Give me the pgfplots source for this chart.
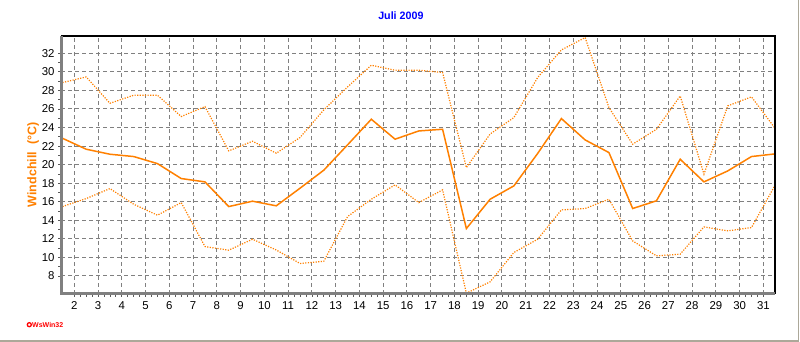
\documentclass[border=0pt]{standalone}
\usepackage{pgfplots}
\pgfplotsset{compat=1.18}
\usepackage{pgfplotstable}
\usepackage{fontspec}
\setmainfont{Liberation Sans}
\definecolor{wsorange}{RGB}{255,128,0}
\definecolor{gridgray}{RGB}{128,128,128}
\definecolor{framegray}{RGB}{172,168,153}
\definecolor{titleblue}{RGB}{0,0,255}

\pgfplotstableread{
day  max    mean   min
1.5  28.84  22.84  15.48
2.5  29.45  21.66  16.34
3.5  26.61  21.12  17.42
4.5  27.48  20.87  15.73
5.5  27.48  20.11  14.55
6.5  25.18  18.50  15.91
7.5  26.25  18.14  11.17
8.5  21.48  15.48  10.78
9.5  22.52  16.06  11.96
10.5 21.23  15.56  10.80
11.5 22.92  17.46  9.35
12.5 25.90  19.40  9.59
13.5 28.37  22.13  14.40
14.5 30.71  24.89  16.27
15.5 30.17  22.74  17.82
16.5 30.17  23.63  15.91
17.5 29.92  23.81  17.28
18.5 19.68  13.11  6.15
19.5 23.30  16.27  7.37
20.5 25.07  17.71  10.53
21.5 29.38  21.20  11.96
22.5 32.36  24.96  15.12
23.5 33.69  22.66  15.27
24.5 26.15  21.30  16.27
25.5 22.20  15.27  11.78
26.5 23.81  16.10  10.17
27.5 27.40  20.58  10.35
28.5 18.97  18.14  13.29
29.5 26.33  19.32  12.86
30.5 27.30  20.87  13.22
31.5 23.89  21.16  17.82
}\windchill

\begin{document}
\begin{tikzpicture}
\path[use as bounding box] (0pt,0pt) rectangle (800pt,342pt);
\draw[framegray, line width=1.5pt] (0pt,0.75pt) -- (798.5pt,0.75pt) -- (798.5pt,342pt);
\begin{axis}[
  at={(61pt,48pt)}, anchor=south west,
  scale only axis, width=714pt, height=258pt,
  xmin=1.44, xmax=31.49, ymin=6.06, ymax=33.86,
  xtick={2,...,31}, ytick={8,10,...,32},
  minor x tick num=3, minor y tick num=1,
  xtick pos=left, ytick pos=left,
  tick align=outside,
  major tick length=3pt, minor tick length=3pt,
  every tick/.style={gridgray!70!black, line width=0.8pt},
  grid=major,
  major grid style={gridgray, line width=1pt, dash pattern=on 4pt off 3pt},
  axis line style={draw=none},
  /pgf/number format/assume math mode=true,
  ticklabel style={font=\fontsize{11.4}{13}\selectfont, text=black},
  xticklabel style={yshift=-1pt},
  title={Juli 2009},
  title style={at={(axis description cs:0.476,1)}, anchor=center, yshift=14pt,
    font=\fontsize{10.7}{12}\selectfont\bfseries, text=titleblue},
  ylabel={Windchill\ \ (°C)},
  ylabel style={at={(axis description cs:-0.039,0.5)}, anchor=center,
    font=\fontsize{12.5}{14}\selectfont\bfseries, text=wsorange},
  clip=false,
]
\addplot[wsorange, line width=1.2pt, dash pattern=on 1.2pt off 1.4pt] table[x=day,y=max] {\windchill};
\addplot[wsorange, line width=1.5pt] table[x=day,y=mean] {\windchill};
\addplot[wsorange, line width=1.2pt, dash pattern=on 1.2pt off 1.4pt] table[x=day,y=min] {\windchill};
\draw[black, line width=1.5pt] (rel axis cs:0,1) -- (rel axis cs:1,1) -- (rel axis cs:1,0);
\draw[gridgray, line width=3pt] (rel axis cs:0,1) -- (rel axis cs:0,0) -- (rel axis cs:1,0);
\end{axis}
\draw[red, line width=1.3pt, fill=white] (29.3pt,17.3pt) circle (2pt);
\node[anchor=west, inner sep=0pt, text=red, font=\fontsize{7}{8}\selectfont\bfseries] at (32pt,17.3pt) {WsWin32};
\end{tikzpicture}
\end{document}
